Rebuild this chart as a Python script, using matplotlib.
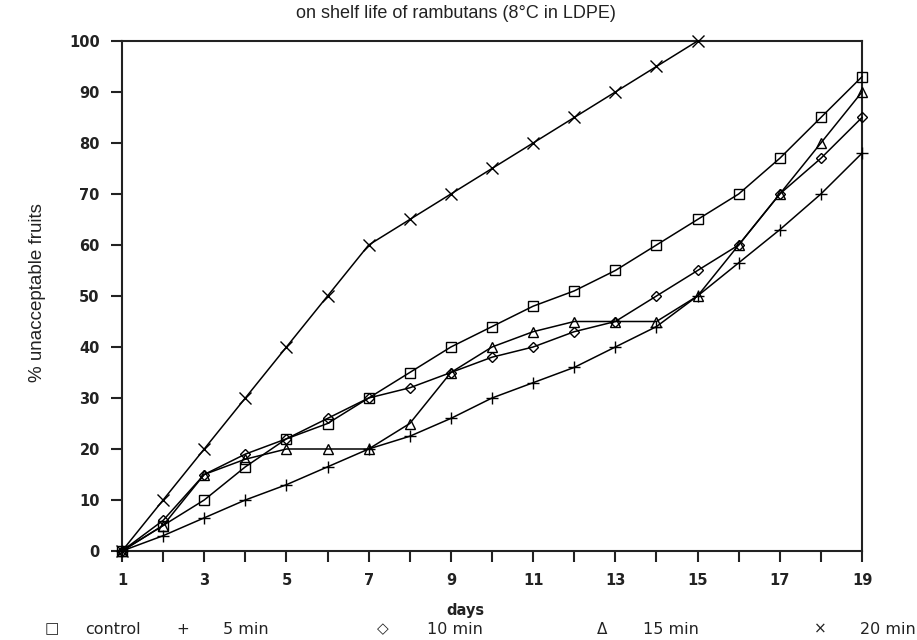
import matplotlib
matplotlib.use("Agg")
import matplotlib.pyplot as plt

days = list(range(1, 20))
control = [0, 5, 10, 16.5, 22, 25, 30, 35, 40, 44, 48, 51, 55, 60, 65, 70, 77, 85, 93]
min5 = [0, 3, 6.5, 10, 13, 16.5, 20, 22.5, 26, 30, 33, 36, 40, 44, 50, 56.5, 63, 70, 78]
min10 = [0, 6, 15, 19, 22, 26, 30, 32, 35, 38, 40, 43, 45, 50, 55, 60, 70, 77, 85]
min15 = [0, 5, 15, 18, 20, 20, 20, 25, 35, 40, 43, 45, 45, 45, 50, 60, 70, 80, 90]
days20 = list(range(1, 16))
min20 = [0, 10, 20, 30, 40, 50, 60, 65, 70, 75, 80, 85, 90, 95, 100]

series = [
    ("control", days, control, "s", 7, "none"),
    ("5 min", days, min5, "+", 8, "none"),
    ("10 min", days, min10, "D", 5, "none"),
    ("15 min", days, min15, "^", 7, "none"),
    ("20 min", days20, min20, "x", 9, "none"),
]
legend_labels = ["control", "5 min", "10 min", "15 min", "20 min"]
legend_syms = ["\u25a1", "+", "\u25c7", "\u0394", "\u00d7"]

fig = plt.figure(figsize=(9.17, 6.4), dpi=100)
ax = fig.add_axes([122/917, 1-551/640, (862-122)/917, (551-41)/640])

for name, x, y, m, ms, fc in series:
    ax.plot(x, y, color="black", linewidth=1.1, marker=m, markersize=ms,
            markerfacecolor=fc, markeredgecolor="black", markeredgewidth=1.0,
            clip_on=False, zorder=3)

ax.set_xlim(1, 19)
ax.set_ylim(0, 100)
ax.set_xticks(days)
ax.set_xticklabels([str(d) if d % 2 == 1 else "" for d in days])
ax.set_yticks(range(0, 101, 10))
for s in ax.spines.values():
    s.set_linewidth(1.5)
    s.set_color("#222222")
ax.tick_params(axis="both", direction="out", length=8, width=1.5, color="#222222",
               labelsize=10.5, pad=8)
for lab in ax.get_xticklabels() + ax.get_yticklabels():
    lab.set_fontweight("bold")
    lab.set_family("DejaVu Sans")
    lab.set_color("#222222")

fig.text(456/917, 1-14/640, "on shelf life of rambutans (8\u00b0C in LDPE)",
         ha="center", va="center", fontsize=13, family="Liberation Sans", color="#222222")
fig.text(38/917, 1-293/640, "% unacceptable fruits", rotation=90, ha="center",
         va="center", fontsize=13.5, family="Liberation Sans", color="#222222")
fig.text(465/917, 1-611/640, "days", ha="center", va="center", fontsize=10.5,
         fontweight="bold", family="DejaVu Sans", color="#222222")

sym_x = [52, 183, 383, 602, 820]
lab_x = [85, 223, 427, 643, 860]
for sx, lx, sym, lab in zip(sym_x, lab_x, legend_syms, legend_labels):
    fig.text(sx/917, 1-629/640, sym, ha="center", va="center", fontsize=11,
             family="DejaVu Sans", color="#222222")
    fig.text(lx/917, 1-629/640, lab, ha="left", va="center", fontsize=11.5,
             family="DejaVu Sans", color="#222222")

fig.savefig("out.png", dpi=100, facecolor="white")
